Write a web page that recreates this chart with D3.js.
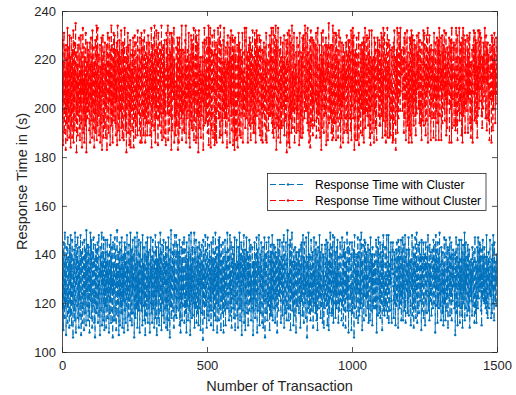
<!DOCTYPE html>
<html><head><meta charset="utf-8">
<script src="https://cdn.jsdelivr.net/npm/d3@7"></script>
<style>body{margin:0;background:#fff}svg{display:block}</style>
</head><body>
<svg id="c" width="516" height="395"></svg>
<script>
const xTicks=[0,500,1000,1500];
const yTicks=[100,120,140,160,180,200,220,240];
const seriesNames=["Response Time with Cluster","Response Time without Cluster"];
const seriesColors=["#0072BD","#FF0000"];
const xLabel="Number of Transaction";
const yLabel="Response Time in (s)";
const withCluster=[
132,118,141,127,109,145,122,136,114,149,128,119,138,107,131,143,121,126,112,147,134,116,139,124,110,144,129,137,115,148,
123,140,111,133,146,120,127,106,138,130,117,142,125,113,149,135,121,108,144,128,139,119,131,147,114,126,137,110,143,122,
136,115,129,148,120,107,141,133,124,112,145,127,118,139,131,109,146,122,135,116,142,128,111,150,125,137,119,132,144,113,
127,143,117,134,108,140,125,149,121,130,114,146,136,110,128,141,119,133,147,123,112,138,129,106,144,120,135,116,142,131,
118,137,145,112,129,122,148,115,134,126,107,139,131,143,117,124,149,111,136,128,141,113,147,121,130,109,138,125,146,119,
141,110,126,137,119,146,131,114,140,123,135,108,128,144,116,133,121,148,112,139,126,143,117,130,106,145,124,136,113,129,
125,147,113,131,142,118,109,136,127,150,120,133,115,141,129,107,138,123,145,111,134,119,142,128,116,147,132,110,139,121,
134,122,140,108,128,145,117,131,143,112,126,137,119,148,124,135,109,141,130,115,144,121,127,138,113,149,129,116,133,142,
111,139,124,146,116,132,127,140,106,121,147,130,114,136,123,143,118,129,149,110,137,125,132,117,146,122,140,108,128,135,
145,120,133,117,138,125,111,148,130,119,136,124,143,113,131,140,107,126,134,145,115,139,121,130,147,112,127,141,118,136,
122,131,108,142,129,147,120,135,116,139,112,128,146,133,118,125,141,110,137,123,129,148,114,134,120,143,107,131,138,125,
137,114,145,126,111,133,140,123,149,117,132,141,109,127,144,120,130,136,115,146,124,112,139,128,135,118,145,122,110,140,
119,143,128,109,136,121,147,130,113,138,125,106,142,131,119,150,127,114,135,129,141,117,126,144,132,110,137,123,148,115,
130,126,139,148,114,129,118,144,135,122,141,128,117,134,146,111,139,124,108,131,143,120,136,113,127,145,119,133,124,141,
147,112,121,133,142,116,137,125,108,145,130,119,138,126,113,141,122,148,130,117,134,107,140,125,149,121,136,114,129,143,
115,138,131,120,127,149,110,132,141,118,124,146,135,112,129,137,116,143,121,139,111,128,145,133,118,130,142,109,136,126,
128,144,116,137,123,105,146,120,131,140,114,133,127,148,119,125,142,131,110,136,128,147,115,122,138,126,113,144,132,117,
139,121,134,111,145,128,117,138,124,130,147,109,136,122,141,115,132,127,149,113,139,120,131,143,108,135,124,140,119,146,
113,133,147,126,118,140,132,109,144,127,121,137,116,130,145,124,108,139,125,134,117,146,128,111,141,130,137,118,126,149,
135,118,124,142,131,113,139,126,148,115,133,120,145,129,110,138,122,135,143,118,127,140,114,132,147,123,109,136,128,120,
124,146,130,115,137,122,110,143,129,136,118,149,127,113,140,131,119,145,126,107,138,129,142,117,134,125,148,112,139,131,
142,109,138,127,120,147,134,116,125,141,130,111,139,124,133,146,117,128,136,121,144,113,131,126,118,143,135,122,107,137,
117,136,122,145,133,114,128,140,119,131,147,125,108,142,126,117,137,132,148,124,111,135,129,140,116,127,145,133,120,112,
131,125,143,110,129,138,121,147,134,106,123,140,129,116,145,135,122,113,130,141,126,119,147,137,124,109,132,139,115,144,
120,141,115,134,148,126,113,137,122,144,131,118,135,143,112,128,141,124,119,139,133,108,125,146,130,117,142,128,136,123,
146,128,137,121,112,139,130,124,145,115,138,127,120,131,148,110,134,140,126,116,129,145,136,121,113,138,127,150,118,132,
126,113,131,144,127,118,146,109,133,141,122,136,149,117,124,137,128,111,142,131,120,137,115,143,129,124,108,134,141,119,
138,132,119,128,141,134,116,142,127,120,135,110,130,144,136,121,145,129,115,124,148,126,139,112,133,145,120,137,124,130,
114,147,126,139,106,123,137,129,118,149,125,140,116,128,121,139,113,134,146,130,117,132,122,141,127,110,136,119,147,128,
133,120,142,116,135,145,125,113,140,128,109,131,143,122,137,118,127,148,123,135,141,114,130,126,119,144,133,125,112,140,
127,139,110,131,123,118,144,136,121,132,146,119,126,138,111,145,131,120,137,109,128,142,116,135,149,122,129,140,133,115,
143,116,135,148,129,112,133,120,147,124,137,130,114,141,125,132,118,143,127,146,120,134,112,128,139,136,117,124,145,131,
121,130,124,113,139,147,119,128,134,111,142,123,136,145,117,128,141,110,133,125,137,122,149,117,131,126,143,108,129,138,
136,145,117,127,122,134,140,109,126,145,131,116,128,120,142,133,106,139,148,118,129,136,124,140,114,133,121,139,126,147,
112,128,139,141,115,126,131,146,118,138,120,149,133,124,109,137,129,144,119,131,113,127,146,123,137,145,130,115,141,122,
140,123,131,118,144,137,112,125,142,129,135,113,121,147,134,117,140,126,138,111,143,130,119,136,125,118,140,132,121,134,
118,137,146,130,108,128,143,135,115,122,147,128,140,116,131,123,145,114,127,141,132,120,137,109,144,127,135,148,117,126,
131,115,122,143,136,119,130,117,139,148,126,114,133,137,124,148,112,131,136,122,117,141,128,145,130,121,112,138,134,142,
145,132,127,114,125,141,120,138,128,111,133,142,119,126,145,130,121,139,110,146,135,125,143,118,133,139,126,120,146,113,
125,141,136,122,147,113,134,126,144,137,117,129,148,121,112,139,133,125,142,128,116,136,122,131,147,115,142,129,123,137,
137,119,111,138,130,126,148,115,132,120,143,136,110,134,140,118,127,147,131,114,139,123,149,126,112,136,118,144,130,128,
116,134,145,128,121,140,125,131,109,146,128,117,139,127,133,145,114,122,136,140,129,111,134,145,121,128,139,116,125,143,
129,148,123,117,136,132,113,144,127,135,121,141,131,115,126,137,142,130,118,124,146,133,120,138,127,144,108,131,148,119,
142,126,137,133,112,145,129,121,140,118,130,149,124,136,119,128,113,143,137,125,132,116,141,129,111,136,125,147,120,134,
120,113,129,146,139,124,117,136,123,143,110,127,135,142,128,121,147,115,130,139,123,145,126,113,140,132,121,135,142,127,
134,140,118,125,131,107,141,128,147,116,133,139,122,111,144,132,126,137,119,146,128,112,138,124,133,118,146,129,115,141,
110,127,144,132,120,138,126,149,113,131,124,145,118,136,128,139,115,124,144,131,140,117,129,142,125,110,137,123,134,126,
138,121,133,115,143,129,136,119,125,141,137,112,130,147,123,116,137,128,112,135,122,143,133,118,147,129,122,141,127,145,
125,144,127,139,117,133,111,142,130,122,146,127,139,121,134,143,120,131,139,125,118,134,120,148,116,139,131,114,136,130,
141,118,132,124,137,146,128,123,135,114,129,138,116,144,126,131,148,120,127,113,145,130,126,137,121,133,119,140,128,134];
const withoutCluster=[
212,196,228,185,219,203,231,190,207,224,198,215,183,226,209,194,220,187,233,201,216,192,225,205,188,230,213,197,221,184,
206,229,193,217,188,224,210,199,232,186,214,203,227,191,219,208,235,195,211,182,223,200,218,189,226,204,213,197,229,192,
220,187,215,201,230,194,208,223,184,217,206,233,190,212,198,225,186,221,204,214,193,231,209,182,219,202,227,196,210,224,
199,222,206,191,213,227,186,218,204,229,195,210,221,188,232,201,216,192,207,225,184,219,211,198,228,190,214,205,234,187,
225,193,233,209,197,215,222,189,211,200,226,186,217,207,194,229,212,183,220,205,230,197,188,223,216,208,192,227,202,218,
188,214,201,226,183,207,219,231,196,222,190,213,229,203,218,185,209,224,198,234,193,211,226,204,186,220,197,231,213,195,
230,205,219,194,224,189,212,203,227,185,217,234,200,191,223,210,196,228,187,214,221,199,209,232,192,215,224,188,206,227,
203,226,187,213,208,233,197,216,191,221,206,182,225,214,200,219,231,190,211,226,203,185,218,195,228,209,184,222,199,213,
216,191,224,200,229,213,184,222,209,195,230,217,188,207,227,193,214,203,221,189,232,211,198,216,205,224,191,213,229,186,
194,219,208,231,186,202,225,197,218,228,189,203,220,232,196,206,186,223,199,217,194,227,213,189,221,200,230,207,194,220,
227,202,214,189,217,222,208,233,184,212,199,226,193,210,218,202,229,191,234,208,215,186,224,203,232,196,209,218,225,201,
185,231,196,220,205,193,227,211,198,224,215,190,234,201,187,225,213,207,198,226,188,219,199,228,190,216,203,185,212,231,
218,209,227,198,234,187,216,201,222,191,205,231,209,223,197,214,183,231,212,191,229,207,220,211,204,233,186,220,197,209,
202,189,211,225,193,218,199,229,207,183,227,213,186,216,229,192,221,199,205,224,213,196,234,187,217,198,224,213,206,191,
223,214,190,206,228,200,234,186,215,220,196,208,224,199,211,205,231,188,219,203,184,222,210,195,230,207,192,228,216,225,
191,226,203,233,187,212,195,221,204,232,209,186,217,230,188,227,197,214,226,182,210,232,198,218,192,212,221,201,188,214,
210,197,221,215,203,227,183,214,193,219,233,201,228,194,213,206,220,195,229,216,201,190,225,206,234,185,217,195,229,203,
233,218,184,198,224,191,209,230,212,198,188,222,207,210,232,185,212,224,187,206,227,213,186,222,199,226,208,233,210,196,
196,207,229,188,216,234,200,189,226,207,214,195,219,186,203,228,199,210,233,196,219,201,215,190,225,204,196,218,184,227,
214,230,201,219,195,209,225,217,186,229,202,213,232,197,221,191,217,230,204,185,224,193,228,211,183,219,229,189,222,205,
187,203,217,226,210,184,219,204,231,193,220,227,189,215,206,224,188,203,221,214,198,231,206,186,215,200,211,223,197,233,
228,192,211,204,233,221,196,215,199,223,186,208,214,226,194,212,229,193,209,227,187,216,201,224,208,194,232,205,218,190,
205,221,194,231,190,200,228,186,218,209,232,197,223,203,230,199,215,224,192,203,230,214,189,211,228,221,187,214,200,224,
219,186,223,212,198,227,214,208,193,225,205,219,187,231,213,186,207,220,216,198,209,191,226,219,197,206,230,197,226,209,
198,233,207,194,221,190,203,233,212,188,219,230,206,192,224,208,234,196,183,228,212,225,204,193,233,188,214,209,192,215,
224,210,186,229,205,216,192,221,200,217,227,193,211,219,201,230,189,221,205,217,195,203,228,215,182,225,203,231,218,186,
190,217,232,216,184,230,211,196,227,203,190,214,234,200,215,192,226,213,199,231,222,186,212,200,218,210,223,190,205,229,
213,198,208,191,226,203,219,185,216,231,211,205,188,223,197,221,205,188,229,209,190,217,230,224,207,196,217,234,211,199,
231,225,199,222,207,194,233,214,191,208,223,186,219,210,228,184,214,232,193,222,203,229,195,209,189,228,200,214,227,193,
195,206,226,203,219,231,188,204,224,196,216,233,199,207,191,218,198,226,211,188,216,207,222,183,231,214,192,220,201,232,
209,223,190,214,197,212,226,198,209,229,185,201,226,216,212,225,187,203,217,235,194,213,200,225,211,196,226,208,190,217,
226,187,218,234,206,188,215,231,194,213,222,194,209,231,187,206,230,219,196,205,224,188,219,203,232,201,210,193,229,204,
184,215,203,196,227,209,201,221,186,226,204,218,190,223,204,196,215,209,227,191,213,230,208,190,222,217,186,228,213,196,
217,228,209,223,191,220,232,187,213,201,229,207,233,196,218,230,209,183,222,213,200,224,187,216,205,229,218,203,187,222,
203,192,231,185,214,204,197,226,219,190,215,226,200,211,227,189,223,213,198,229,186,211,227,198,233,192,207,220,216,199,
230,216,197,211,229,193,223,208,199,232,188,203,221,185,209,217,201,232,190,214,220,205,194,213,221,186,229,199,209,227,
192,208,224,203,187,217,212,229,205,216,224,197,214,228,193,226,193,207,220,203,231,197,216,229,188,213,203,233,195,212,
220,231,213,189,222,200,186,214,227,195,209,233,188,217,205,212,228,216,188,226,208,214,189,202,224,209,196,221,225,186,
207,196,187,227,215,232,206,194,221,209,183,220,206,224,199,233,190,222,210,196,219,231,205,227,211,199,233,207,214,218,
224,214,221,199,206,210,225,218,190,229,212,196,231,201,214,187,219,204,227,232,193,212,223,196,218,186,216,191,229,203,
189,229,205,217,232,186,214,201,230,198,222,209,193,228,220,203,226,197,214,189,225,206,198,230,208,223,209,222,200,231,
215,203,194,228,200,224,193,219,212,187,227,213,206,195,218,232,209,193,231,215,201,226,212,189,218,205,230,195,224,207,
233,186,219,210,223,209,230,197,217,224,202,187,226,215,204,196,221,213,203,224,188,218,231,205,214,196,227,219,187,213,
199,212,229,194,213,226,205,228,187,215,233,219,197,222,208,213,229,187,216,205,230,194,223,209,226,211,200,232,208,195,
211,223,204,231,189,204,218,192,225,202,210,223,215,206,229,186,203,223,228,200,213,227,186,233,192,218,213,204,225,220,
227,193,216,201,226,214,191,211,233,219,193,208,230,187,216,221,212,199,208,233,195,211,219,203,227,198,226,189,212,229,
186,218,233,213,197,230,221,200,208,190,228,216,202,218,211,199,230,205,224,190,221,204,229,214,206,231,194,218,203,188,
219,207,192,224,210,186,207,226,215,232,206,224,195,231,196,228,208,219,194,227,210,188,217,197,232,208,221,200,232,217,
203,231,221,208,229,218,197,213,192,221,217,200,227,211,222,205,216,233,213,203,196,230,212,225,191,224,210,227,196,210,
222,195,210,187,215,226,223,204,221,209,186,230,213,204,229,191,218,200,226,215,231,206,222,194,216,202,229,206,218,225];

(function(){
const W=516,H=395;
const pL=62,pR=497,pT=11,pB=352;
const font="'Liberation Sans', Arial, Helvetica, sans-serif";
const axisColor="#262626";
const svg=d3.select("#c");
const x=d3.scaleLinear().domain([0,1500]).range([pL,pR]);
const y=d3.scaleLinear().domain([100,240]).range([pB,pT]);

svg.append("rect").attr("x",0).attr("y",0).attr("width",W).attr("height",H).attr("fill","#fff");

svg.append("defs").append("clipPath").attr("id","clip")
  .append("rect").attr("x",pL).attr("y",pT).attr("width",pR-pL).attr("height",pB-pT);

const series=[withCluster,withoutCluster];
const plot=svg.append("g").attr("clip-path","url(#clip)");
const line=d3.line().x((d,i)=>x(i+1)).y(d=>y(d));
series.forEach((s,k)=>{
  const g=plot.append("g");
  g.append("path").datum(s).attr("d",line).attr("fill","none")
    .attr("stroke",seriesColors[k]).attr("stroke-width",1).attr("stroke-dasharray","6,3");
  g.selectAll("circle").data(s).join("circle")
    .attr("cx",(d,i)=>x(i+1)).attr("cy",d=>y(d)).attr("r",1.2).attr("fill",seriesColors[k]);
});

function styleAxis(g,labels){
  g.selectAll("path.domain").attr("stroke",axisColor).attr("stroke-width",0.8);
  g.selectAll(".tick line").attr("stroke",axisColor).attr("stroke-width",0.8);
  g.selectAll("text").attr("fill",axisColor).style("font-family",font).style("font-size","13px");
  if(!labels) g.selectAll("text").remove();
}
const ax=[
  svg.append("g").attr("transform",`translate(0,${pB})`).call(d3.axisBottom(x).tickValues(xTicks).tickSizeInner(-5).tickSizeOuter(0).tickPadding(9).tickFormat(d3.format("d"))),
  svg.append("g").attr("transform",`translate(${pL},0)`).call(d3.axisLeft(y).tickValues(yTicks).tickSizeInner(-5).tickSizeOuter(0).tickPadding(6).tickFormat(d3.format("d")))
];
ax.forEach(g=>styleAxis(g,true));
const ax2=[
  svg.append("g").attr("transform",`translate(0,${pT})`).call(d3.axisTop(x).tickValues(xTicks).tickSizeInner(-5).tickSizeOuter(0)),
  svg.append("g").attr("transform",`translate(${pR},0)`).call(d3.axisRight(y).tickValues(yTicks).tickSizeInner(-5).tickSizeOuter(0))
];
ax2.forEach(g=>styleAxis(g,false));

svg.append("text").attr("x",(pL+pR)/2).attr("y",391).attr("text-anchor","middle")
  .style("font-family",font).style("font-size","14.5px").attr("fill",axisColor).text(xLabel);
svg.append("text").attr("transform",`translate(27,${(pT+pB)/2}) rotate(-90)`).attr("text-anchor","middle")
  .style("font-family",font).style("font-size","14.5px").attr("fill",axisColor).text(yLabel);

const lg=svg.append("g");
lg.append("rect").attr("x",267.5).attr("y",173.5).attr("width",218.5).attr("height",37)
  .attr("fill","#fff").attr("stroke",axisColor).attr("stroke-width",0.8);
const rowY=[184.5,200.5];
seriesNames.forEach((name,k)=>{
  lg.append("line").attr("x1",270).attr("x2",306).attr("y1",rowY[k]).attr("y2",rowY[k])
    .attr("stroke",seriesColors[k]).attr("stroke-width",1).attr("stroke-dasharray","6,3");
  lg.append("circle").attr("cx",288).attr("cy",rowY[k]).attr("r",1.2).attr("fill",seriesColors[k]);
  lg.append("text").attr("x",315).attr("y",rowY[k]).attr("dy","0.35em")
    .style("font-family",font).style("font-size","12px").attr("fill","#000").text(name);
});
})();
</script>
</body></html>
